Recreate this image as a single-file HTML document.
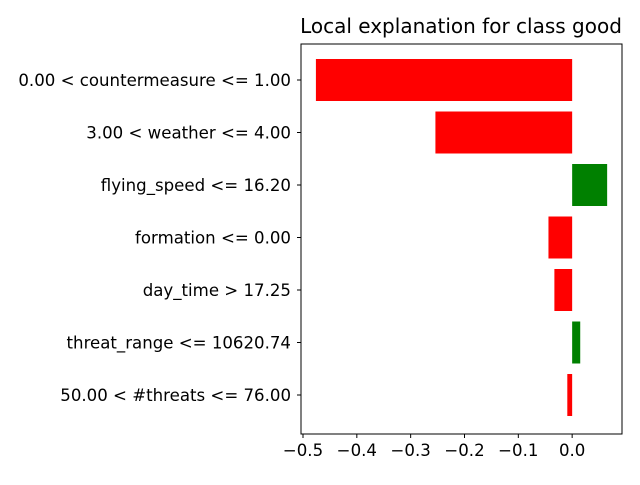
<!DOCTYPE html>
<html><head><meta charset="utf-8"><style>
body{margin:0;background:#fff;}
svg text{font-family:"DejaVu Sans","Liberation Sans",sans-serif;fill:#000;}
</style></head><body>
<svg id="chart" width="640" height="480" xmlns="http://www.w3.org/2000/svg">
<text x="461" y="33" font-size="20" text-anchor="middle">Local explanation for class good</text>
<g id="bars"></g>
<g id="yticks"></g>
<g id="xticks"></g>
<rect x="301" y="44" width="321" height="390" fill="none" stroke="#000" stroke-width="1"/>
</svg>
<script>
const features = ["0.00 < countermeasure <= 1.00","3.00 < weather <= 4.00","flying_speed <= 16.20","formation <= 0.00","day_time > 17.25","threat_range <= 10620.74","50.00 < #threats <= 76.00"];
const weights = [-0.476,-0.254,0.065,-0.044,-0.033,0.015,-0.009];
const xTicks = [-0.5,-0.4,-0.3,-0.2,-0.1,0.0];
const xTickLabels = ["\u22120.5","\u22120.4","\u22120.3","\u22120.2","\u22120.1","0.0"];
const NS="http://www.w3.org/2000/svg";
const xMin=-0.5037, xMax=0.0926, L=301, R=622, T=44, B=434;
function x(v){return L+(v-xMin)/(xMax-xMin)*(R-L);}
function y(i){return 80+i*52.5;}
const bars=document.getElementById('bars'), yt=document.getElementById('yticks'), xt=document.getElementById('xticks');
weights.forEach((w,i)=>{
  const r=document.createElementNS(NS,'rect');
  
  
  const x0=x(0), x1=x(w);
  r.setAttribute('x',Math.min(x0,x1)); r.setAttribute('width',Math.abs(x1-x0));
  r.setAttribute('y',y(i)-21); r.setAttribute('height',42);
  r.setAttribute('fill',w<0?'#ff0000':'#008000');
  bars.appendChild(r);
  const tk=document.createElementNS(NS,'line');
  
  
  tk.setAttribute('x1',L-4);tk.setAttribute('x2',L);tk.setAttribute('y1',y(i));tk.setAttribute('y2',y(i));tk.setAttribute('stroke','#000');
  yt.appendChild(tk);
  const t=document.createElementNS(NS,'text');
  
  
  t.setAttribute('x',L-10);t.setAttribute('y',y(i)+6);t.setAttribute('font-size','16.6');t.setAttribute('text-anchor','end');
  t.textContent=features[i]; yt.appendChild(t);
});
xTicks.forEach((v,i)=>{
  const tk=document.createElementNS(NS,'line');
  
  
  tk.setAttribute('x1',x(v));tk.setAttribute('x2',x(v));tk.setAttribute('y1',B);tk.setAttribute('y2',B+4);tk.setAttribute('stroke','#000');
  xt.appendChild(tk);
  const t=document.createElementNS(NS,'text');
  
  
  t.setAttribute('x',x(v));t.setAttribute('y',B+22);t.setAttribute('font-size','16.6');t.setAttribute('text-anchor','middle');
  t.textContent=xTickLabels[i]; xt.appendChild(t);
});
</script>
</body></html>
